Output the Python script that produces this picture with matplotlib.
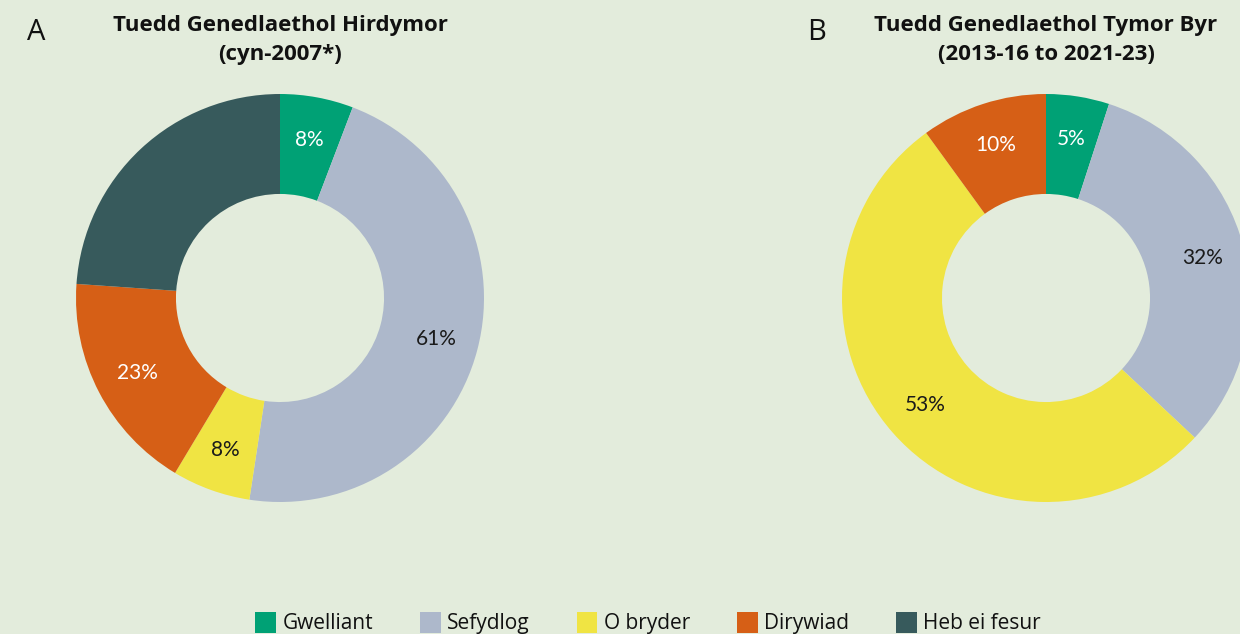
import matplotlib
matplotlib.use("Agg")
import matplotlib.pyplot as plt
from matplotlib.patches import Patch
import numpy as np

plt.rcParams["font.family"] = ["Open Sans", "DejaVu Sans"]

# categories and colours
categories = ["Gwelliant", "Sefydlog", "O bryder", "Dirywiad", "Heb ei fesur"]
colors = ["#00A175", "#ADB8CB", "#F0E443", "#D65F16", "#375A5C"]
label_colors = ["white", "#1a1a1a", "#1a1a1a", "white", "white"]

# panel A: long-term trend (share of all features, incl. not assessed)
long_term = [5.8, 46.6, 6.2, 17.5, 23.9]
# panel B: short-term trend
short_term = [5, 32, 53, 10, 0]

titles = ["Tuedd Genedlaethol Hirdymor\n(cyn-2007*)",
          "Tuedd Genedlaethol Tymor Byr\n(2013-16 to 2021-23)"]
panel_letters = ["A", "B"]

BG = "#E3ECDC"
W, H = 1240, 634

fig = plt.figure(figsize=(W / 100, H / 100), dpi=100, facecolor=BG)
ax = fig.add_axes([0, 0, 1, 1])
ax.set_facecolor(BG)


def draw_donut(values, cx, cy, r):
    vals = np.array(values, dtype=float)
    keep = vals > 0
    ax.pie(vals[keep], colors=np.array(colors)[keep], startangle=90,
           counterclock=False, center=(cx, cy), radius=r,
           wedgeprops=dict(width=0.49 * r, linewidth=0), frame=True)
    # percentage labels exclude "Heb ei fesur"
    measured = vals[:4].sum()
    total = vals.sum()
    cum = 0.0
    for i, v in enumerate(vals):
        if v <= 0:
            continue
        mid = (cum + v / 2) / total * 360
        cum += v
        if i == 4:
            continue
        ang = np.deg2rad(90 - mid)
        rr = 0.79 * r
        ax.text(cx + rr * np.cos(ang), cy + rr * np.sin(ang),
                f"{v / measured * 100:.0f}%", ha="center", va="center",
                fontsize=15, color=label_colors[i],
                family=["Lato", "DejaVu Sans"])


draw_donut(long_term, 280, H - 298, 204)
draw_donut(short_term, 1046, H - 298, 204)

ax.set_xlim(0, W)
ax.set_ylim(0, H)
ax.set_aspect("equal")
ax.axis("off")

for x, title in zip([280, 1046], titles):
    ax.text(x, H - 40, title, ha="center", va="center", fontsize=16,
            fontweight="bold", color="#111111", linespacing=1.45)
for x, letter in zip([36, 817], panel_letters):
    ax.text(x, H - 32, letter, ha="center", va="center", fontsize=21,
            color="#111111")

handles = [Patch(facecolor=c, edgecolor="none") for c in colors]
fig.legend(handles, categories, loc="center", ncol=5,
           bbox_to_anchor=(648 / W, 1 - 623 / H), frameon=False,
           fontsize=15, handlelength=1.0, handleheight=1.2,
           handletextpad=0.3, columnspacing=2.25, labelcolor="#111111")

fig.savefig("out.png", dpi=100, facecolor=BG)
